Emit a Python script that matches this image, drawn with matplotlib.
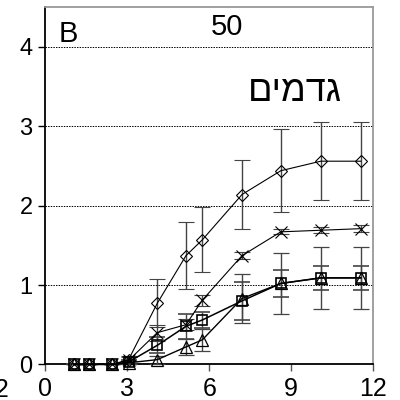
import matplotlib
matplotlib.use("Agg")
import matplotlib.pyplot as plt

plt.rcParams['font.family'] = ['Liberation Sans', 'DejaVu Sans']

days = [1.05, 1.6, 2.45, 3.05, 4.1, 5.15, 5.75, 7.2, 8.62, 10.08, 11.54]

diamond = [0.0, 0.0, 0.0, 0.06, 0.77, 1.37, 1.57, 2.14, 2.44, 2.56, 2.56]
diamond_err = [0.0, 0.0, 0.0, 0.05, 0.30, 0.42, 0.41, 0.43, 0.52, 0.49, 0.49]

star = [0.0, 0.0, 0.0, 0.05, 0.40, 0.50, 0.81, 1.37, 1.67, 1.69, 1.71]
star_err = [0.0, 0.0, 0.0, 0.04, 0.10, 0.07, 0.07, 0.04, 0.03, 0.04, 0.04]

square = [0.0, 0.0, 0.0, 0.03, 0.24, 0.48, 0.56, 0.80, 1.02, 1.09, 1.09]
square_err = [0.0, 0.0, 0.0, 0.02, 0.10, 0.16, 0.10, 0.24, 0.17, 0.15, 0.15]

triangle = [0.0, 0.0, 0.0, 0.02, 0.06, 0.22, 0.31, 0.83, 1.02, 1.09, 1.09]
triangle_err = [0.0, 0.0, 0.0, 0.02, 0.05, 0.10, 0.14, 0.31, 0.38, 0.39, 0.39]

xticks = [0, 3, 6, 9, 12]
yticks = [0, 1, 2, 3, 4]

fig = plt.figure(figsize=(4, 4), dpi=100)
ax = fig.add_axes([0.113, 0.089, 0.82, 0.893])

series = [
    (diamond, diamond_err, 'D', 6.0, 0.8, 0.8),
    (star, star_err, 'x', 8.5, 0.8, 0.8),
    (square, square_err, 's', 7.5, 1.2, 1.1),
    (triangle, triangle_err, '^', 8.0, 0.9, 1.0),
]
for vals, errs, mk, ms, mew, lw in series:
    ax.errorbar(days, vals, yerr=errs, color='black', ecolor='#444444',
                elinewidth=1.0, capsize=5.5, capthick=1.0,
                marker=mk, markersize=ms, markerfacecolor='none',
                markeredgecolor='black', markeredgewidth=mew,
                linewidth=lw, zorder=3, clip_on=False)

ax.set_xlim(0, 12)
ax.set_ylim(0, 4.5)
ax.set_xticks(xticks)
ax.set_yticks(yticks)
ax.set_xticklabels([str(t) for t in xticks], fontsize=18)
ax.set_yticklabels([str(t) for t in yticks], fontsize=17)
ax.tick_params(axis='y', direction='out', length=5, width=1, pad=4)
ax.tick_params(axis='x', direction='out', length=5, width=1, pad=4, color='#555555')

for y in [1, 2, 3, 4]:
    ax.axhline(y, color='black', linestyle=(0, (1.5, 1.2)), linewidth=0.7, zorder=1)

ax.spines['left'].set_linewidth(1.3)
ax.spines['bottom'].set_linewidth(1.3)
ax.spines['top'].set_color('#999999')
ax.spines['right'].set_color('#999999')
ax.spines['top'].set_linewidth(1.3)
ax.spines['right'].set_linewidth(1.3)

ax.text(0.04, 0.965, 'B', transform=ax.transAxes, fontsize=21, ha='left', va='top')
ax.text(0.555, 0.985, '50', transform=ax.transAxes, fontsize=21, ha='center', va='top')
ax.text(0.905, 0.765, 'גדמים'[::-1], transform=ax.transAxes, fontsize=26,
        ha='right', va='center')

fig.text(9 / 400, 1 - 390 / 400, '12', fontsize=18, ha='right', va='center')

fig.savefig('out.png', dpi=100)
